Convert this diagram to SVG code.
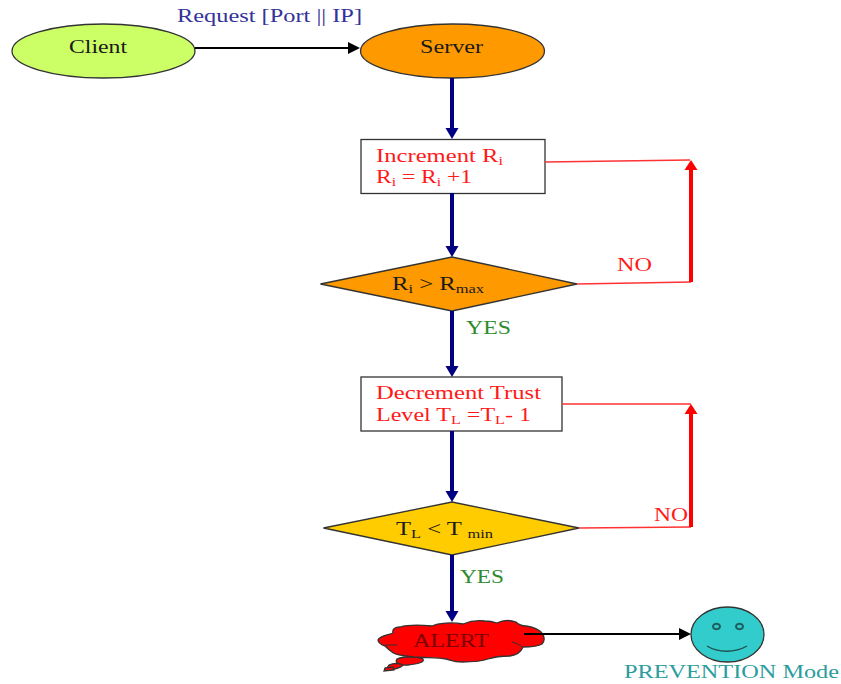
<svg xmlns="http://www.w3.org/2000/svg" width="841" height="684" viewBox="0 0 841 684">
  <style>
    text { font-family: "Liberation Serif", "Times New Roman", serif; font-size: 18px; }
    .k { fill: #1a1a1a; }
    .r { fill: #ff1a1a; }
    .g { fill: #2e8b2e; }
    .s { font-size: 12px; }
    .shape { stroke: #333333; stroke-width: 1.3; }
    .blue { stroke: #000080; stroke-width: 4; fill: none; marker-end: url(#headBlue); }
    .black { stroke: #000000; stroke-width: 2; fill: none; marker-end: url(#headBlack); }
    .thin { stroke: #ff3333; stroke-width: 1.3; fill: none; }
    .thick { stroke: #ff0000; stroke-width: 4; fill: none; marker-end: url(#headRed); }
  </style>
  <defs>
    <marker id="headBlue" markerUnits="userSpaceOnUse" markerWidth="13" markerHeight="14" refX="7" refY="7" orient="auto">
      <path d="M0 0.500L11 7L0 13.500Z" fill="#000080"/>
    </marker>
    <marker id="headBlack" markerUnits="userSpaceOnUse" markerWidth="14" markerHeight="14" refX="8" refY="7" orient="auto">
      <path d="M0 1L12 7L0 13Z" fill="#000000"/>
    </marker>
    <marker id="headRed" markerUnits="userSpaceOnUse" markerWidth="12" markerHeight="14" refX="6" refY="7" orient="auto">
      <path d="M0 0.500L10 7L0 13.500Z" fill="#ff0000"/>
    </marker>
  </defs>

  <g id="client">
    <ellipse class="shape" cx="103.500" cy="51" rx="91.500" ry="27" fill="#ccff66"/>
    <text class="k" x="69" y="53" textLength="58" lengthAdjust="spacingAndGlyphs">Client</text>
  </g>
  <g id="server">
    <ellipse class="shape" cx="452.500" cy="51" rx="92" ry="27" fill="#ff9900"/>
    <text class="k" x="420" y="53" textLength="63" lengthAdjust="spacingAndGlyphs">Server</text>
  </g>
  <text id="request-label" x="177" y="22" fill="#333399" textLength="185" lengthAdjust="spacingAndGlyphs">Request [Port || IP]</text>

  <g id="increment">
    <rect class="shape" x="361" y="139.500" width="184" height="54" fill="#ffffff"/>
    <text class="r" x="376" y="162" textLength="127" lengthAdjust="spacingAndGlyphs">Increment R<tspan class="s" dy="3">i</tspan></text>
    <text class="r" x="376" y="183" textLength="96" lengthAdjust="spacingAndGlyphs">R<tspan class="s" dy="3">i</tspan><tspan dy="-3"> = R</tspan><tspan class="s" dy="3">i</tspan><tspan dy="-3"> +1</tspan></text>
  </g>
  <g id="check-rate">
    <polygon class="shape" points="320.500,284 452,257 577,284 452,311" fill="#ff9900"/>
    <text class="k" x="392" y="290" textLength="92" lengthAdjust="spacingAndGlyphs">R<tspan class="s" dy="3">i</tspan><tspan dy="-3"> &gt; R</tspan><tspan class="s" dy="3">max</tspan></text>
  </g>
  <text id="no-1" class="r" x="617" y="271" textLength="35" lengthAdjust="spacingAndGlyphs">NO</text>
  <text id="yes-1" class="g" x="466" y="334" textLength="45" lengthAdjust="spacingAndGlyphs">YES</text>

  <g id="decrement">
    <rect class="shape" x="361" y="377" width="201" height="54" fill="#ffffff"/>
    <text class="r" x="376" y="399" textLength="165" lengthAdjust="spacingAndGlyphs">Decrement Trust</text>
    <text class="r" x="376" y="421" textLength="155" lengthAdjust="spacingAndGlyphs">Level T<tspan class="s" dy="3">L</tspan><tspan dy="-3"> =T</tspan><tspan class="s" dy="3">L</tspan><tspan dy="-3">- 1</tspan></text>
  </g>
  <g id="check-trust">
    <polygon class="shape" points="323.500,528 452,502 579,528 452,555" fill="#ffcc00"/>
    <text class="k" x="396" y="535" textLength="97" lengthAdjust="spacingAndGlyphs">T<tspan class="s" dy="3">L</tspan><tspan dy="-3"> &lt; T </tspan><tspan class="s" dy="3">min</tspan></text>
  </g>
  <text id="no-2" class="r" x="654" y="521" textLength="34" lengthAdjust="spacingAndGlyphs">NO</text>
  <text id="yes-2" class="g" x="460" y="583" textLength="44" lengthAdjust="spacingAndGlyphs">YES</text>

  <g id="alert">
    <path class="shape" fill="#ff0000" d="M397 659C404 656 418 656 423 659C425 662 418 664 408 665C400 666 394 663 397 659Z"/>
    <path class="shape" fill="#ff0000" d="M389 665C393 663 400 663 403 665C401 668 393 670 388 669C387 667 388 666 389 665Z"/>
    <path class="shape" fill="#ff0000" d="M385 668L393 667L394 670L384 671Z"/>
    <path class="shape" fill="#ff0000" d="M378 640C379 636 388 635 393 633C392 629 395 627 400 627C410 624 422 625 432 626C438 623 452 622 463 624C470 621 478 620 485 621C490 621 494 622 497 623C503 620 510 620 516 622C519 625 522 626 526 626C532 627 538 629 541 632C545 636 545 641 542 644C537 647 530 647 523 647C521 652 517 655 510 656C502 656 494 657 488 659C480 662 470 662 462 662C455 662 450 660 446 659C438 657 428 658 414 657C404 656 395 655 392 652C389 650 387 648 385 646C381 645 378 642 378 640Z"/>
    <path d="M385 645H397M512 642C516 643 520 645 522 647" fill="none" stroke="#333333" stroke-width="1"/>
    <text x="413" y="647" fill="#7a0000" textLength="76" lengthAdjust="spacingAndGlyphs">ALERT</text>
  </g>

  <g id="prevention">
    <ellipse class="shape" cx="727.500" cy="634.500" rx="36.500" ry="27.500" fill="#33cccc"/>
    <ellipse cx="716.500" cy="626.500" rx="3.500" ry="2.800" fill="#33cccc" stroke="#1f5f5f" stroke-width="2"/>
    <ellipse cx="739.500" cy="626.500" rx="3.500" ry="2.800" fill="#33cccc" stroke="#1f5f5f" stroke-width="2"/>
    <path d="M707 646C718 653 735 653 747 646" fill="none" stroke="#1f4f4f" stroke-width="1.300"/>
    <text x="624" y="678" fill="#2a9d9d" textLength="215" lengthAdjust="spacingAndGlyphs">PREVENTION Mode</text>
  </g>

  <g id="connectors">
    <path class="black" d="M195 48H356"/>
    <path class="blue" d="M452 78V135"/>
    <path class="blue" d="M452 193V253"/>
    <path class="blue" d="M452 311V373"/>
    <path class="blue" d="M452 431V498"/>
    <path class="blue" d="M452 555V618"/>
    <path class="black" d="M524 634H687"/>
    <path class="thin" d="M545 162L690 160"/>
    <path class="thin" d="M577 284L691 282"/>
    <path class="thick" d="M691 282V164"/>
    <path class="thin" d="M562 404H691"/>
    <path class="thin" d="M579 528L691 527"/>
    <path class="thick" d="M691 527V408"/>
  </g>
</svg>
